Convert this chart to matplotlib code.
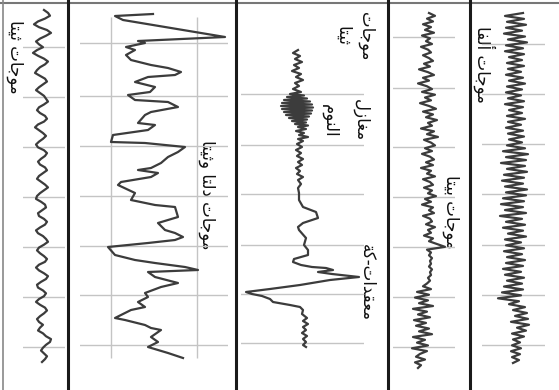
import numpy as np
import matplotlib.pyplot as plt

plt.rcParams['font.family'] = ['DejaVu Sans']

# ---- data: EEG traces (time in s downwards, amplitude sideways) ----
# uniformly sampled traces: (t_start, t_end, values)
theta_t = (0.20, 7.24)
theta_vals = [2, 6, 8, 3, -4, -8, -3, 5, 9, 4, -2, -6, -3, 1, -5, -9, -4, 2,
              6, 3, -2, -5, -7, -2, 3, 5, 1, -3, -6, -2, 2, 4, 6, 2, -3, -5,
              -2, 3, 5, 2, -4, -7, -3, 1, 4, 1, -3, -6, -4, 2, 5, 3, -1, -4,
              -2, 3, 5, 1, -3, -5, -1, 3, 6, 2, -2, -5, -6, -1, 3, 4, 0, -4,
              -3, 2, 5, 3, -2, -6, -4, 1, 4, 6, 2, -3, -5, -2, 2, 5, 3, -3,
              -6, -3, 2, 6, 4, -1, -5, -4, 1, 4, 2, -3, -6, -2, 3, 5, 2, -2,
              -5, -3, 1, -2, -4, 1, 4, 9, 8, 4, 1, -1, 2, 5, 3, 0]

beta_t = (0.26, 7.36)
beta_vals = [4, 10, 2, 8, -2, 6, 0, 9, -3, 5, 1, 7, -4, 3, 6, -2, 4,
             8, -1, 5, -6, 3, 9, -2, 4, -7, 2, 7, -3, 10, 0, 6, -5, 4, 11,
             -2, 8, 1, 12, 3, 7, -4, 9, 2, 13, -1, 6, 10, 0,
             7, -3, 5, 9, 1, 8, -4, 6, 2, 10, -2, 5, 8, -1, 7, 3, 11, 0, 6,
             -3, 8, 4, 9, -2, 5, 7, 1, 10, 3, 6, -1, 8, 4, 12,
             20, 2, 6, 4, 7, 5, 6, 4, 7, 5, 6, 3, 5, 2,
             -2, 6, -8, 4, -10, 3, -6, 8, -12, 2, -7, 5, -11, 1, -9, 4, -6,
             7, -12, 0, -8, 3, -13, 2, -5, -9, 0, -10, -4, -7]

alpha_t = (0.26, 7.26)
alpha_vals = [8, -10, 9, -8, 11, -9, 7, -11, 10, -7, 12, -9, 8, -10, 9, -6,
              7, -8, 9, -7, 6, -9, 8, -6, 10, -8, 7, -9, 6, -7, 9, -10, 8,
              -6, 7, -8, 10, -7, 6, -9, 8, -7, 9, -6, 7, -8, 10,
              -12, 13, -9, 11, -14, 10, -8, 12, -11, 9, -13, 8, -10, 12, -9,
              11, -12,
              9, -14, 8, -10, 11, -15, 7, -9, 10, -12, 8, -7, 11, -10, 6, -9,
              9, -11, 7, -8, 10, -9, 8, -12, 6, -10, 9, -8, 7, -11, 8, -13,
              6, -17,
              4, -6, 10, -2, 12, 0, 13, -4, 14, 2, 11, -3, 9, -2,
              5, -3, 6, -4, 5, -3, 4, -2]

# irregular traces: explicit sample times and amplitudes
delta_time = [0.28, 0.32, 0.40, 0.74, 0.82, 0.86, 0.94, 1.00, 1.10, 1.20,
              1.30, 1.36, 1.44, 1.50, 1.54, 1.64, 1.74, 1.84, 1.90, 2.00,
              2.04, 2.14, 2.24, 2.30, 2.46, 2.50, 2.60, 2.70, 2.84, 2.86,
              2.94, 3.04, 3.14, 3.26, 3.36, 3.40, 3.46, 3.54, 3.64, 3.70,
              3.86, 4.00, 4.10, 4.14, 4.34, 4.40, 4.46, 4.60, 4.66, 4.74,
              4.80, 4.86, 4.94, 5.10, 5.20, 5.26, 5.34, 5.40, 5.44, 5.54,
              5.66, 5.74, 5.86, 5.94, 6.04, 6.14, 6.20, 6.36, 6.40, 6.50,
              6.56, 6.60, 6.74, 6.84, 6.94, 7.06, 7.16]
delta_amp = [-1, -39, -31, 71, -16, -9, -28, -19, -28, -23, -3, 14, 27, 21,
             -6, -19, 1, -4, -26, -19, 14, 24, -3, -9, -16, 1, -6, -41, -43,
             -9, 31, 24, 14, 7, -3, -16, 4, -3, -33, -36, -19, -23, 1, 21,
             24, 14, 4, 11, 21, 29, 21, -6, -46, -39, -19, 1, 31, 44, -6, 1,
             24, 7, -9, -6, -16, -9, -23, -39, -29, -9, -3, 7, -3, 4, -6, 14,
             29]

ktime = [1.00, 1.06, 1.12, 1.18, 1.24, 1.30, 1.36, 1.42, 1.48, 1.54, 1.60,
         1.66, 1.72, 1.78, 1.84,
         1.88, 1.91, 1.94, 1.97, 2.00, 2.03, 2.06, 2.09, 2.12, 2.15, 2.18,
         2.21, 2.24, 2.27, 2.30, 2.33, 2.36, 2.39, 2.42, 2.45, 2.48, 2.51,
         2.54, 2.58, 2.62, 2.66, 2.70, 2.74, 2.78, 2.82, 2.88, 2.94, 3.00,
         3.06, 3.12, 3.18, 3.24, 3.30, 3.36, 3.42, 3.48, 3.54, 3.60, 3.68,
         3.76, 3.86, 4.00, 4.14, 4.24, 4.36, 4.46, 4.54, 4.60, 4.76, 4.90,
         5.00, 5.10, 5.18, 5.24, 5.30, 5.34, 5.36, 5.40, 5.44, 5.48, 5.54,
         5.60, 5.70, 5.78, 5.84, 5.88, 5.92, 5.98, 6.04, 6.10, 6.14, 6.20,
         6.28, 6.36, 6.42, 6.48, 6.54, 6.60, 6.66, 6.72, 6.78, 6.84, 6.90,
         6.94]
kamp = [1, -4, 3, -2, 5, -3, 2, -5, 4, -1, 6, -2, 2, -4, 4,
        -7, 7, -10, 10, -13, 13, -15, 15, -16, 16, -15, 15, -13, 14, -11,
        12, -8, 10, -5, 9, -2, 11,
        1, 9, -1, 7, 2, 11, 1, 6, 0, 5, -1, 4, 0, 6, 1, 5, -1, 3, 0, 6, 1,
        4, 1, 2, 2, 6, 19, 21, 6, 1, 2, 9, 7, 11, 11, -3, -4, 4, 15, 29, 36,
        21, 35, 62, 33, 3, -27, -51, -45, -35, -27, -24, -7, 3, 6, 5, 10, 6,
        11, 6, 9, 5, 10, 6, 9, 6, 9]

labels_theta = "موجات ثيتا"
labels_delta = "موجات دلتا وثيتا"
labels_p3_top = ["موجات", "ثيتا"]
labels_spindle = ["مغازل", "النوم"]
labels_kcomplex = "معقدات-كة"
labels_beta = "موجات بيتا"
labels_alpha = "موجات ألفا"

# ---- minimal Arabic shaping (presentation forms, visual order) ----
FORMS = {
    'ا': ('\uFE8D', '\uFE8E', None, None),
    'أ': ('\uFE83', '\uFE84', None, None),
    'ب': ('\uFE8F', '\uFE90', '\uFE91', '\uFE92'),
    'ة': ('\uFE93', '\uFE94', None, None),
    'ت': ('\uFE95', '\uFE96', '\uFE97', '\uFE98'),
    'ث': ('\uFE99', '\uFE9A', '\uFE9B', '\uFE9C'),
    'ج': ('\uFE9D', '\uFE9E', '\uFE9F', '\uFEA0'),
    'د': ('\uFEA9', '\uFEAA', None, None),
    'ز': ('\uFEAF', '\uFEB0', None, None),
    'ع': ('\uFEC9', '\uFECA', '\uFECB', '\uFECC'),
    'غ': ('\uFECD', '\uFECE', '\uFECF', '\uFED0'),
    'ف': ('\uFED1', '\uFED2', '\uFED3', '\uFED4'),
    'ق': ('\uFED5', '\uFED6', '\uFED7', '\uFED8'),
    'ك': ('\uFED9', '\uFEDA', '\uFEDB', '\uFEDC'),
    'ل': ('\uFEDD', '\uFEDE', '\uFEDF', '\uFEE0'),
    'م': ('\uFEE1', '\uFEE2', '\uFEE3', '\uFEE4'),
    'ن': ('\uFEE5', '\uFEE6', '\uFEE7', '\uFEE8'),
    'و': ('\uFEED', '\uFEEE', None, None),
    'ي': ('\uFEF1', '\uFEF2', '\uFEF3', '\uFEF4'),
}


def shape(text):
    out = []
    for i, ch in enumerate(text):
        if ch not in FORMS:
            out.append(ch)
            continue
        prev = text[i - 1] if i > 0 else ''
        nxt = text[i + 1] if i + 1 < len(text) else ''
        iso, fin, ini, med = FORMS[ch]
        jp = prev in FORMS and FORMS[prev][2] is not None
        jn = nxt in FORMS and ini is not None
        if jp and jn:
            out.append(med)
        elif jp:
            out.append(fin)
        elif jn:
            out.append(ini)
        else:
            out.append(iso)
    return ''.join(reversed(out))


W, H = 559, 390
fig = plt.figure(figsize=(W / 100, H / 100), dpi=100)

bg = fig.add_axes([0, 0, 1, 1])
bg.set_xlim(0, W)
bg.set_ylim(H, 0)
bg.axis('off')
bg.axhline(2.5, color='#777777', lw=1.5)
bg.axvline(3, color='#888888', lw=1.2)
for xd in [68, 236, 388, 470]:
    bg.axvline(xd, color='#1a1a1a', lw=2.2)

TRACE = dict(color='#3c3c3c', lw=1.6, solid_joinstyle='round')
GRID = '#c4c4c4'


def panel(left, right, center, grid_times):
    ax = fig.add_axes([left / W, 0, (right - left) / W, 1])
    ax.set_xlim(left - center, right - center)
    ax.set_ylim(H / 50, 0)
    ax.patch.set_alpha(0)
    for s in ax.spines.values():
        s.set_visible(False)
    ax.set_xticks([])
    ax.set_yticks(grid_times)
    ax.tick_params(length=0, labelleft=False)
    ax.grid(axis='y', color=GRID, lw=1)
    return ax


ax1 = panel(23, 65, 42, [0.93 + k for k in range(7)])
ax1.plot(theta_vals, np.linspace(*theta_t, len(theta_vals)), **TRACE)

ax2 = panel(80, 228, 154, [0.85, 1.91, 2.91, 3.91, 4.91, 5.89, 6.9])
ax2.vlines([-43, 43], 0.34, 7.16, color=GRID, lw=1)
ax2.plot(delta_amp, delta_time, **TRACE)

ax3 = panel(241, 364, 297, [1.88, 2.9, 3.88, 4.9, 5.88, 6.86])
ax3.plot(kamp, ktime, **TRACE)

ax4 = panel(393, 455, 425, [0.74, 1.75, 2.94, 3.94, 4.94, 5.94, 6.94])
ax4.plot(beta_vals, np.linspace(*beta_t, len(beta_vals)), **TRACE)

ax5 = panel(482, 545, 515, [0.88, 1.88, 2.88, 3.88, 4.9, 5.9, 6.9])
ax5.plot(alpha_vals, np.linspace(*alpha_t, len(alpha_vals)), **TRACE)

TXT = dict(rotation=-90, ha='center', va='center', fontsize=12, color='#111111')
bg.text(15, 57, shape(labels_theta), **TXT)
bg.text(207, 195, shape(labels_delta), **TXT)
bg.text(366, 36, shape(labels_p3_top[0]), **TXT)
bg.text(343, 36, shape(labels_p3_top[1]), **TXT)
bg.text(361, 120, shape(labels_spindle[0]), **TXT)
bg.text(330, 121, shape(labels_spindle[1]), **TXT)
bg.text(367, 283, shape(labels_kcomplex), **TXT)
bg.text(451, 212, shape(labels_beta), **TXT)
bg.text(484, 64, shape(labels_alpha), **TXT)

fig.savefig('out.png', dpi=100)
